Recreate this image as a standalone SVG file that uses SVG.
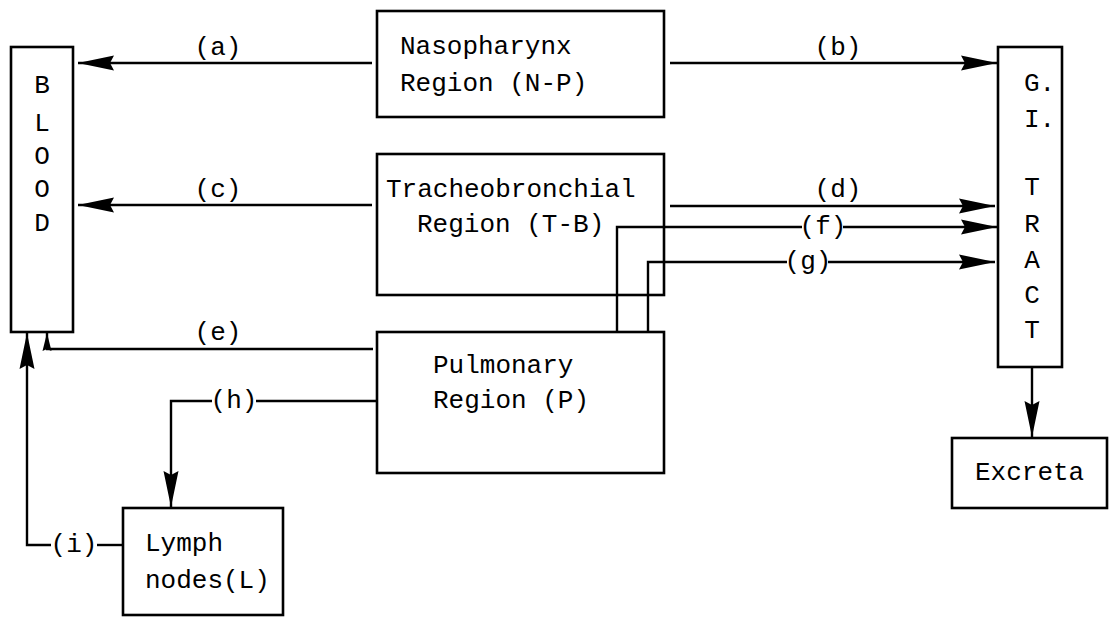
<svg xmlns="http://www.w3.org/2000/svg" width="1112" height="618" viewBox="0 0 1112 618">
<defs>
<style>
.box{fill:none;stroke:#000;stroke-width:2.6}
.ln{fill:none;stroke:#000;stroke-width:2.4}
text{font-family:"Liberation Mono","DejaVu Sans Mono",monospace;font-size:26px;fill:#000}
.m{text-anchor:middle}
</style>
<marker id="ah" markerUnits="userSpaceOnUse" viewBox="0 0 36 16" refX="36" refY="8" markerWidth="36" markerHeight="16" orient="auto">
<path d="M0,0.5 L36,8 L0,15.5 L4,8 z" fill="#000"/>
</marker>
<marker id="ahs" markerUnits="userSpaceOnUse" viewBox="0 0 18 10" refX="18" refY="5" markerWidth="18" markerHeight="10" orient="auto">
<path d="M0,0.5 L18,5 L0,9.5 L2,5 z" fill="#000"/>
</marker>
</defs>
<rect width="1112" height="618" fill="#fff"/>

<g id="blood">
<rect class="box" x="11" y="47" width="62" height="285"/>
<text class="m" x="42" y="93">B</text>
<text class="m" x="42" y="131">L</text>
<text class="m" x="42" y="164">O</text>
<text class="m" x="42" y="197">O</text>
<text class="m" x="42" y="231">D</text>
</g>

<g id="nasopharynx">
<rect class="box" x="377" y="11" width="287" height="106"/>
<text x="400" y="54">Nasopharynx</text>
<text x="400" y="91">Region (N-P)</text>
</g>

<g id="tracheobronchial">
<rect class="box" x="377" y="154" width="287" height="141"/>
<text x="386" y="197">Tracheobronchial</text>
<text x="417" y="232">Region (T-B)</text>
</g>

<g id="pulmonary">
<rect class="box" x="377" y="332" width="287" height="141"/>
<text x="433" y="373">Pulmonary</text>
<text x="433" y="408">Region (P)</text>
</g>

<g id="gitract">
<rect class="box" x="998" y="47" width="64" height="320"/>
<text x="1024" y="91">G.</text>
<text x="1024" y="127">I.</text>
<text class="m" x="1032" y="195">T</text>
<text class="m" x="1032" y="232">R</text>
<text class="m" x="1032" y="268">A</text>
<text class="m" x="1032" y="303">C</text>
<text class="m" x="1032" y="338">T</text>
</g>

<g id="excreta">
<rect class="box" x="952" y="438" width="155" height="70"/>
<text x="975" y="480">Excreta</text>
</g>

<g id="lymph">
<rect class="box" x="123" y="508" width="160" height="107"/>
<text x="145" y="551">Lymph</text>
<text x="145" y="588">nodes(L)</text>
</g>

<g id="connectors">
<path class="ln" d="M372,63 H78" marker-end="url(#ah)"/>
<text class="m" x="218" y="55">(a)</text>
<path class="ln" d="M670,63 H997" marker-end="url(#ah)"/>
<text class="m" x="838" y="55">(b)</text>
<path class="ln" d="M372,205 H78" marker-end="url(#ah)"/>
<text class="m" x="218" y="197">(c)</text>
<path class="ln" d="M670,206 H995" marker-end="url(#ah)"/>
<text class="m" x="838" y="197">(d)</text>
<path class="ln" d="M373,349 H47 V333" marker-end="url(#ahs)"/>
<text class="m" x="218" y="340">(e)</text>
<path class="ln" d="M617,332 V227 H802"/>
<path class="ln" d="M843,227 H997" marker-end="url(#ah)"/>
<text class="m" x="823" y="234">(f)</text>
<path class="ln" d="M648,332 V262 H787"/>
<path class="ln" d="M828,262 H995" marker-end="url(#ah)"/>
<text class="m" x="808" y="269">(g)</text>
<path class="ln" d="M377,401 H256"/>
<path class="ln" d="M212,401 H171 V507" marker-end="url(#ah)"/>
<text class="m" x="234" y="408">(h)</text>
<path class="ln" d="M123,545 H97"/>
<path class="ln" d="M51,545 H27 V333" marker-end="url(#ah)"/>
<text class="m" x="74" y="552">(i)</text>
<path class="ln" d="M1032,367 V437" marker-end="url(#ah)"/>
</g>
</svg>
